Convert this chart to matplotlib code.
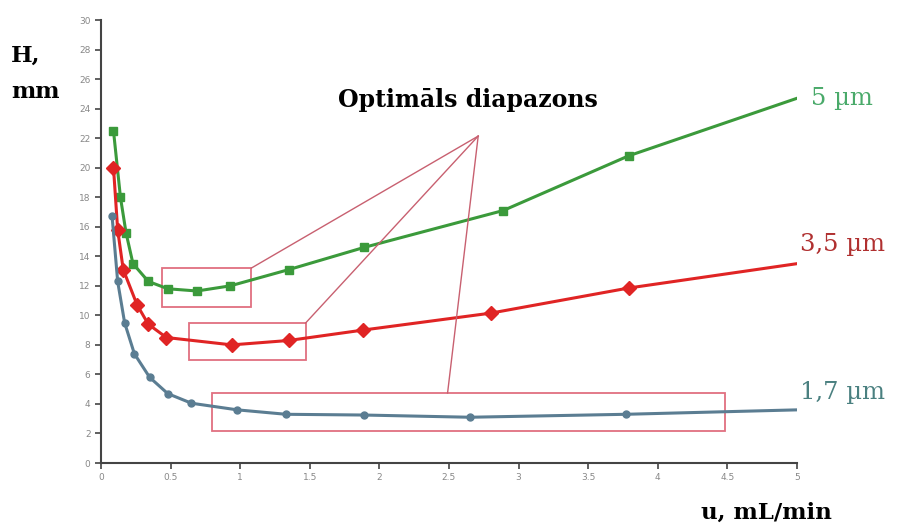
import numpy as np
import matplotlib.pyplot as plt
from matplotlib.patches import Rectangle

# data (u in mL/min, H in mm)
u_17 = [0.08, 0.12, 0.17, 0.24, 0.35, 0.48, 0.65, 0.98, 1.33, 1.89, 2.65, 3.77, 5.0]
h_17 = [16.7, 12.3, 9.5, 7.4, 5.8, 4.7, 4.05, 3.6, 3.3, 3.25, 3.1, 3.3, 3.6]

u_35 = [0.09, 0.12, 0.16, 0.26, 0.34, 0.47, 0.94, 1.35, 1.88, 2.80, 3.79, 5.0]
h_35 = [20.0, 15.8, 13.1, 10.7, 9.4, 8.5, 8.0, 8.3, 9.0, 10.15, 11.85, 13.5]

u_5 = [0.09, 0.14, 0.18, 0.23, 0.34, 0.48, 0.69, 0.93, 1.35, 1.89, 2.89, 3.79, 5.0]
h_5 = [22.5, 18.0, 15.6, 13.5, 12.3, 11.8, 11.65, 12.0, 13.1, 14.6, 17.1, 20.8, 24.7]

# optimal ranges (x0, x1, y0, y1)
boxes = [(0.44, 1.08, 10.56, 13.2), (0.63, 1.47, 6.97, 9.48), (0.80, 4.48, 2.17, 4.74)]
apex = (2.71, 22.14)
targets = [(1.08, 13.2), (1.47, 9.48), (2.49, 4.74)]

fig = plt.figure(figsize=(8.99, 5.27), dpi=100)
ax = fig.add_axes([0.1123, 0.1214, 0.7742, 0.8406])

ax.plot(u_5, h_5, color='#3b9a3b', lw=2.2, marker='s', ms=6, markevery=list(range(len(u_5) - 1)))
ax.plot(u_35, h_35, color='#e02424', lw=2.2, marker='D', ms=7, markevery=list(range(len(u_35) - 1)))
ax.plot(u_17, h_17, color='#5b7d92', lw=2.2, marker='o', ms=5, markevery=list(range(len(u_17) - 1)))

box_col = '#e07080'
for x0, x1, y0, y1 in boxes:
    ax.add_patch(Rectangle((x0, y0), x1 - x0, y1 - y0, fill=False, ec=box_col, lw=1.3))
for tx, ty in targets:
    ax.plot([apex[0], tx], [apex[1], ty], color='#c86070', lw=1)

ax.set_xlim(0, 5)
ax.set_ylim(0, 30)
ax.set_xticks(np.arange(0, 5.01, 0.5))
ax.set_xticklabels(['0', '0.5', '1', '1.5', '2', '2.5', '3', '3.5', '4', '4.5', '5'])
ax.set_yticks(range(0, 31, 2))
for s in ['top', 'right']:
    ax.spines[s].set_visible(False)
for s in ['left', 'bottom']:
    ax.spines[s].set_color('#444444')
    ax.spines[s].set_linewidth(1.5)
ax.tick_params(labelsize=6.5, colors='#444444', labelcolor='#888888', length=4, width=1.2)

serif = 'DejaVu Serif'
fig.text(0.012, 0.895, 'H,', fontsize=16.5, fontweight='bold', family=serif, va='center')
fig.text(0.012, 0.825, 'mm', fontsize=16.5, fontweight='bold', family=serif, va='center')
fig.text(0.52, 0.81, 'Optimāls diapazons', fontsize=17, fontweight='bold', family=serif,
         ha='center', va='center')
fig.text(0.925, 0.027, 'u, mL/min', fontsize=16.5, fontweight='bold', family=serif,
         ha='right', va='center')

ax.text(5.1, 24.7, '5 µm', color='#4aaa6a', fontsize=17.5, family=serif, va='center')
ax.text(5.02, 14.8, '3,5 µm', color='#b03030', fontsize=17.5, family=serif, va='center')
ax.text(5.02, 4.8, '1,7 µm', color='#4a8080', fontsize=17.5, family=serif, va='center')

fig.savefig('out.png', dpi=100)
